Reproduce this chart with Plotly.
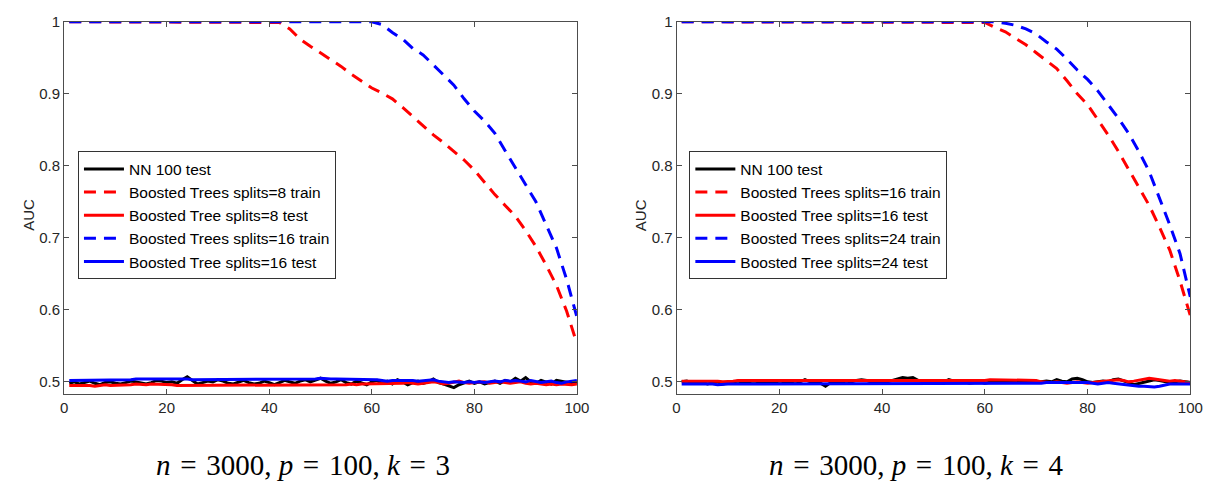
import plotly.graph_objects as go

# ---------------- data ----------------
iters = list(range(1, 101))

# Left panel: n=3000, p=100, k=3
L_nn_test = [0.498, 0.500, 0.497, 0.499, 0.501, 0.498, 0.496, 0.499, 0.500, 0.498,
             0.497, 0.499, 0.501, 0.500, 0.498, 0.497, 0.499, 0.502, 0.501, 0.499,
             0.500, 0.498, 0.503, 0.507, 0.502, 0.497, 0.499, 0.501, 0.500, 0.503,
             0.501, 0.498, 0.497, 0.500, 0.502, 0.499, 0.497, 0.498, 0.501, 0.499,
             0.496, 0.499, 0.502, 0.500, 0.498, 0.501, 0.503, 0.500, 0.502, 0.505,
             0.501, 0.498, 0.500, 0.503, 0.499, 0.497, 0.501, 0.498, 0.496, 0.500,
             0.502, 0.498, 0.501, 0.497, 0.503, 0.500, 0.496, 0.499, 0.501, 0.498,
             0.500, 0.504, 0.499, 0.497, 0.495, 0.492, 0.496, 0.499, 0.501, 0.498,
             0.500, 0.497, 0.499, 0.501, 0.498, 0.502, 0.500, 0.505, 0.501, 0.506,
             0.500, 0.498, 0.502, 0.499, 0.497, 0.502, 0.501, 0.500, 0.498, 0.500]
L_red_train_x = [1, 40, 42, 44, 46, 48, 50, 52, 54, 56, 58, 60, 62, 64, 66, 68, 70,
                 72, 74, 76, 78, 80, 82, 84, 86, 88, 90, 92, 94, 96, 98, 100]
L_red_train = [1.0, 1.0, 0.999, 0.990, 0.976, 0.966, 0.957, 0.948, 0.938, 0.927, 0.917,
               0.908, 0.901, 0.893, 0.881, 0.868, 0.855, 0.843, 0.832, 0.820, 0.808,
               0.794, 0.777, 0.760, 0.745, 0.730, 0.710, 0.688, 0.662, 0.634, 0.598, 0.553]
L_red_test = [0.495, 0.495, 0.496, 0.495, 0.495, 0.494, 0.495, 0.496, 0.495, 0.495,
              0.495, 0.496, 0.496, 0.497, 0.496, 0.496, 0.497, 0.497, 0.496, 0.496,
              0.496, 0.495, 0.495, 0.496, 0.496, 0.495, 0.495, 0.495, 0.496, 0.495,
              0.495, 0.495, 0.496, 0.495, 0.495, 0.495, 0.496, 0.495, 0.495, 0.496,
              0.496, 0.495, 0.495, 0.496, 0.496, 0.495, 0.495, 0.496, 0.495, 0.495,
              0.495, 0.496, 0.496, 0.495, 0.496, 0.497, 0.496, 0.497, 0.497, 0.498,
              0.498, 0.497, 0.498, 0.498, 0.497, 0.498, 0.499, 0.498, 0.497, 0.498,
              0.499, 0.500, 0.499, 0.497, 0.498, 0.500, 0.501, 0.499, 0.498, 0.499,
              0.499, 0.500, 0.498, 0.499, 0.500, 0.499, 0.498, 0.499, 0.500, 0.498,
              0.497, 0.498, 0.497, 0.496, 0.497, 0.496, 0.497, 0.496, 0.496, 0.497]
L_blue_train_x = [1, 58, 60, 62, 64, 66, 68, 70, 72, 74, 76, 78, 80, 82, 84, 86, 88,
                  90, 92, 94, 96, 98, 100]
L_blue_train = [1.0, 1.0, 1.0, 0.996, 0.985, 0.976, 0.963, 0.954, 0.940, 0.925, 0.912,
                0.893, 0.876, 0.862, 0.845, 0.821, 0.797, 0.774, 0.750, 0.718, 0.686,
                0.642, 0.590]
L_blue_test = [0.502, 0.502, 0.503, 0.502, 0.502, 0.503, 0.503, 0.503, 0.502, 0.503,
               0.503, 0.503, 0.503, 0.504, 0.504, 0.504, 0.504, 0.505, 0.504, 0.504,
               0.504, 0.504, 0.504, 0.504, 0.503, 0.503, 0.504, 0.504, 0.503, 0.503,
               0.503, 0.503, 0.504, 0.504, 0.504, 0.504, 0.504, 0.504, 0.504, 0.504,
               0.504, 0.504, 0.504, 0.504, 0.504, 0.504, 0.504, 0.504, 0.504, 0.505,
               0.504, 0.504, 0.504, 0.504, 0.504, 0.504, 0.504, 0.504, 0.504, 0.504,
               0.503, 0.502, 0.501, 0.502, 0.502, 0.503, 0.502, 0.502, 0.501, 0.502,
               0.502, 0.503, 0.501, 0.500, 0.499, 0.500, 0.499, 0.499, 0.500, 0.499,
               0.500, 0.499, 0.500, 0.501, 0.500, 0.502, 0.501, 0.502, 0.501, 0.500,
               0.502, 0.501, 0.499, 0.500, 0.501, 0.499, 0.498, 0.500, 0.501, 0.502]

# Right panel: n=3000, p=100, k=4
R_nn_test = [0.500, 0.501, 0.499, 0.500, 0.500, 0.497, 0.499, 0.500, 0.497, 0.498,
             0.500, 0.501, 0.499, 0.500, 0.501, 0.500, 0.498, 0.500, 0.499, 0.501,
             0.500, 0.499, 0.501, 0.500, 0.503, 0.500, 0.499, 0.498, 0.494, 0.499,
             0.500, 0.499, 0.501, 0.500, 0.502, 0.503, 0.502, 0.499, 0.500, 0.499,
             0.500, 0.502, 0.505, 0.506, 0.505, 0.506, 0.502, 0.500, 0.499, 0.500,
             0.501, 0.500, 0.503, 0.501, 0.499, 0.500, 0.498, 0.499, 0.500, 0.498,
             0.499, 0.500, 0.502, 0.501, 0.500, 0.499, 0.500, 0.501, 0.500, 0.499,
             0.500, 0.501, 0.500, 0.503, 0.501, 0.500, 0.504, 0.505, 0.503, 0.500,
             0.499, 0.500, 0.501, 0.500, 0.503, 0.504, 0.502, 0.499, 0.496, 0.498,
             0.500, 0.502, 0.503, 0.502, 0.500, 0.499, 0.500, 0.501, 0.500, 0.499]
R_red_train_x = [1, 58, 60, 62, 64, 66, 68, 70, 72, 74, 76, 78, 80, 82, 84, 86, 88,
                 90, 92, 94, 96, 98, 100]
R_red_train = [1.0, 1.0, 0.999, 0.992, 0.986, 0.977, 0.968, 0.957, 0.946, 0.935, 0.918,
               0.900, 0.885, 0.864, 0.843, 0.820, 0.795, 0.770, 0.745, 0.715, 0.683,
               0.640, 0.592]
R_blue_train_x = [1, 60, 62, 64, 66, 68, 70, 72, 74, 76, 78, 80, 82, 84, 86, 88, 90,
                  92, 94, 96, 98, 100]
R_blue_train = [1.0, 1.0, 1.0, 0.998, 0.995, 0.990, 0.983, 0.972, 0.962, 0.948, 0.933,
                0.920, 0.904, 0.885, 0.866, 0.845, 0.820, 0.792, 0.755, 0.718, 0.678,
                0.618]
R_red_test = [0.501, 0.501, 0.502, 0.501, 0.501, 0.502, 0.501, 0.501, 0.500, 0.500,
              0.501, 0.502, 0.502, 0.501, 0.502, 0.502, 0.502, 0.501, 0.502, 0.502,
              0.502, 0.502, 0.502, 0.502, 0.502, 0.502, 0.502, 0.502, 0.502, 0.502,
              0.502, 0.502, 0.502, 0.502, 0.502, 0.502, 0.502, 0.502, 0.502, 0.502,
              0.502, 0.502, 0.502, 0.502, 0.502, 0.502, 0.502, 0.502, 0.502, 0.502,
              0.502, 0.502, 0.502, 0.502, 0.502, 0.502, 0.502, 0.502, 0.501, 0.502,
              0.503, 0.503, 0.502, 0.503, 0.503, 0.503, 0.502, 0.503, 0.503, 0.502,
              0.500, 0.499, 0.499, 0.500, 0.499, 0.498, 0.499, 0.500, 0.499, 0.498,
              0.499, 0.500, 0.500, 0.501, 0.502, 0.503, 0.502, 0.500, 0.501, 0.502,
              0.504, 0.505, 0.504, 0.503, 0.502, 0.501, 0.502, 0.501, 0.500, 0.499]
R_blue_test = [0.497, 0.497, 0.497, 0.498, 0.497, 0.497, 0.497, 0.496, 0.497, 0.497,
               0.497, 0.497, 0.497, 0.497, 0.497, 0.497, 0.497, 0.497, 0.497, 0.497,
               0.497, 0.497, 0.497, 0.497, 0.497, 0.497, 0.497, 0.497, 0.497, 0.497,
               0.497, 0.497, 0.497, 0.497, 0.497, 0.497, 0.497, 0.497, 0.497, 0.497,
               0.497, 0.497, 0.497, 0.497, 0.497, 0.497, 0.497, 0.497, 0.497, 0.497,
               0.497, 0.497, 0.497, 0.497, 0.497, 0.497, 0.497, 0.497, 0.497, 0.497,
               0.497, 0.497, 0.497, 0.498, 0.498, 0.497, 0.497, 0.498, 0.498, 0.497,
               0.498, 0.499, 0.499, 0.500, 0.500, 0.499, 0.499, 0.500, 0.500, 0.499,
               0.498, 0.497, 0.498, 0.499, 0.498, 0.497, 0.497, 0.496, 0.495, 0.494,
               0.494, 0.493, 0.493, 0.494, 0.496, 0.497, 0.497, 0.497, 0.497, 0.497]

L_names = ["NN 100 test", "Boosted Trees splits=8 train", "Boosted Tree splits=8 test",
           "Boosted Trees splits=16 train", "Boosted Tree splits=16 test"]
R_names = ["NN 100 test", "Boosted Trees splits=16 train", "Boosted Tree splits=16 test",
           "Boosted Trees splits=24 train", "Boosted Tree splits=24 test"]
SP = "&#8196;"
captions = [f"<i>n</i>{SP}={SP}3000, <i>p</i>{SP}={SP}100, <i>k</i>{SP}={SP}3",
            f"<i>n</i>{SP}={SP}3000, <i>p</i>{SP}={SP}100, <i>k</i>{SP}={SP}4"]
y_ticks = [0.5, 0.6, 0.7, 0.8, 0.9, 1.0]
y_ticktext = ["0.5", "0.6", "0.7", "0.8", "0.9", "1"]
x_ticks = [0, 20, 40, 60, 80, 100]

# ---------------- figure ----------------
W, H = 1225, 486
BLACK, RED, BLUE = "#000000", "#ff0000", "#0000ff"
LW = 3
DASH = "12px,8px"

fig = go.Figure()

def add_panel(xa, ya, leg, names, nn, rtx, rtr, rte, btx, btr, bte):
    fig.add_trace(go.Scatter(x=iters, y=nn, mode="lines", name=names[0], xaxis=xa, yaxis=ya,
                             legend=leg, line=dict(color=BLACK, width=LW)))
    fig.add_trace(go.Scatter(x=rtx, y=rtr, mode="lines", name=names[1], xaxis=xa, yaxis=ya,
                             legend=leg, line=dict(color=RED, width=LW, dash=DASH)))
    fig.add_trace(go.Scatter(x=iters, y=rte, mode="lines", name=names[2], xaxis=xa, yaxis=ya,
                             legend=leg, line=dict(color=RED, width=LW)))
    fig.add_trace(go.Scatter(x=btx, y=btr, mode="lines", name=names[3], xaxis=xa, yaxis=ya,
                             legend=leg, line=dict(color=BLUE, width=LW, dash=DASH)))
    fig.add_trace(go.Scatter(x=iters, y=bte, mode="lines", name=names[4], xaxis=xa, yaxis=ya,
                             legend=leg, line=dict(color=BLUE, width=LW)))

add_panel("x", "y", "legend", L_names, L_nn_test, L_red_train_x, L_red_train, L_red_test,
          L_blue_train_x, L_blue_train, L_blue_test)
add_panel("x2", "y2", "legend2", R_names, R_nn_test, R_red_train_x, R_red_train, R_red_test,
          R_blue_train_x, R_blue_train, R_blue_test)

AX = "#4d4d4d"
SANS = "Liberation Sans, Arial, sans-serif"
TICKFONT = dict(family=SANS, size=15, color="#262626")
def xaxis(dom):
    return dict(domain=dom, range=[0, 100], tickvals=x_ticks, ticks="inside", ticklen=5,
                tickcolor=AX, showline=True, linecolor=AX, linewidth=1, mirror="ticks",
                showgrid=False, zeroline=False, tickfont=TICKFONT)
def yaxis(anchor):
    return dict(domain=[1 - 392 / H, 1 - 13 / H], range=[0.4835, 1.0], tickvals=y_ticks,
                ticktext=y_ticktext, ticks="inside", ticklen=5, tickcolor=AX, showline=True,
                linecolor=AX, linewidth=1, mirror="ticks", showgrid=False, zeroline=False,
                tickfont=TICKFONT, anchor=anchor)

leg_common = dict(xanchor="left", yanchor="top", bgcolor="white", bordercolor="#333333",
                  borderwidth=1, itemwidth=40,
                  font=dict(family=SANS, size=15.5, color="#000000"))
fig.update_layout(
    width=W, height=H, margin=dict(l=0, r=0, t=0, b=0),
    paper_bgcolor="white", plot_bgcolor="white",
    xaxis=dict(**xaxis([61 / W, 581 / W]), anchor="y"),
    yaxis=yaxis("x"),
    xaxis2=dict(**xaxis([682 / W, 1203 / W]), anchor="y2"),
    yaxis2=yaxis("x2"),
    legend=dict(x=75 / W, y=1 - 145 / H, **leg_common),
    legend2=dict(x=695 / W, y=1 - 145 / H, **leg_common),
)

for xpx in (24, 645):
    fig.add_annotation(text="AUC", x=xpx / W, y=1 - 210 / H, xref="paper", yref="paper",
                       xanchor="center", yanchor="middle", showarrow=False, textangle=-90,
                       font=dict(family=SANS, size=15, color="#262626"))
for cap, xpx in zip(captions, (303, 925)):
    fig.add_annotation(text=cap, x=xpx / W, y=1 - 465 / H, xref="paper", yref="paper",
                       xanchor="center", yanchor="middle", showarrow=False,
                       font=dict(family="Liberation Serif, Times New Roman, serif", size=29,
                                 color="#000000"))

fig.write_html("out.html", config={"displayModeBar": False},
               post_script="document.body.style.margin='0px';")
